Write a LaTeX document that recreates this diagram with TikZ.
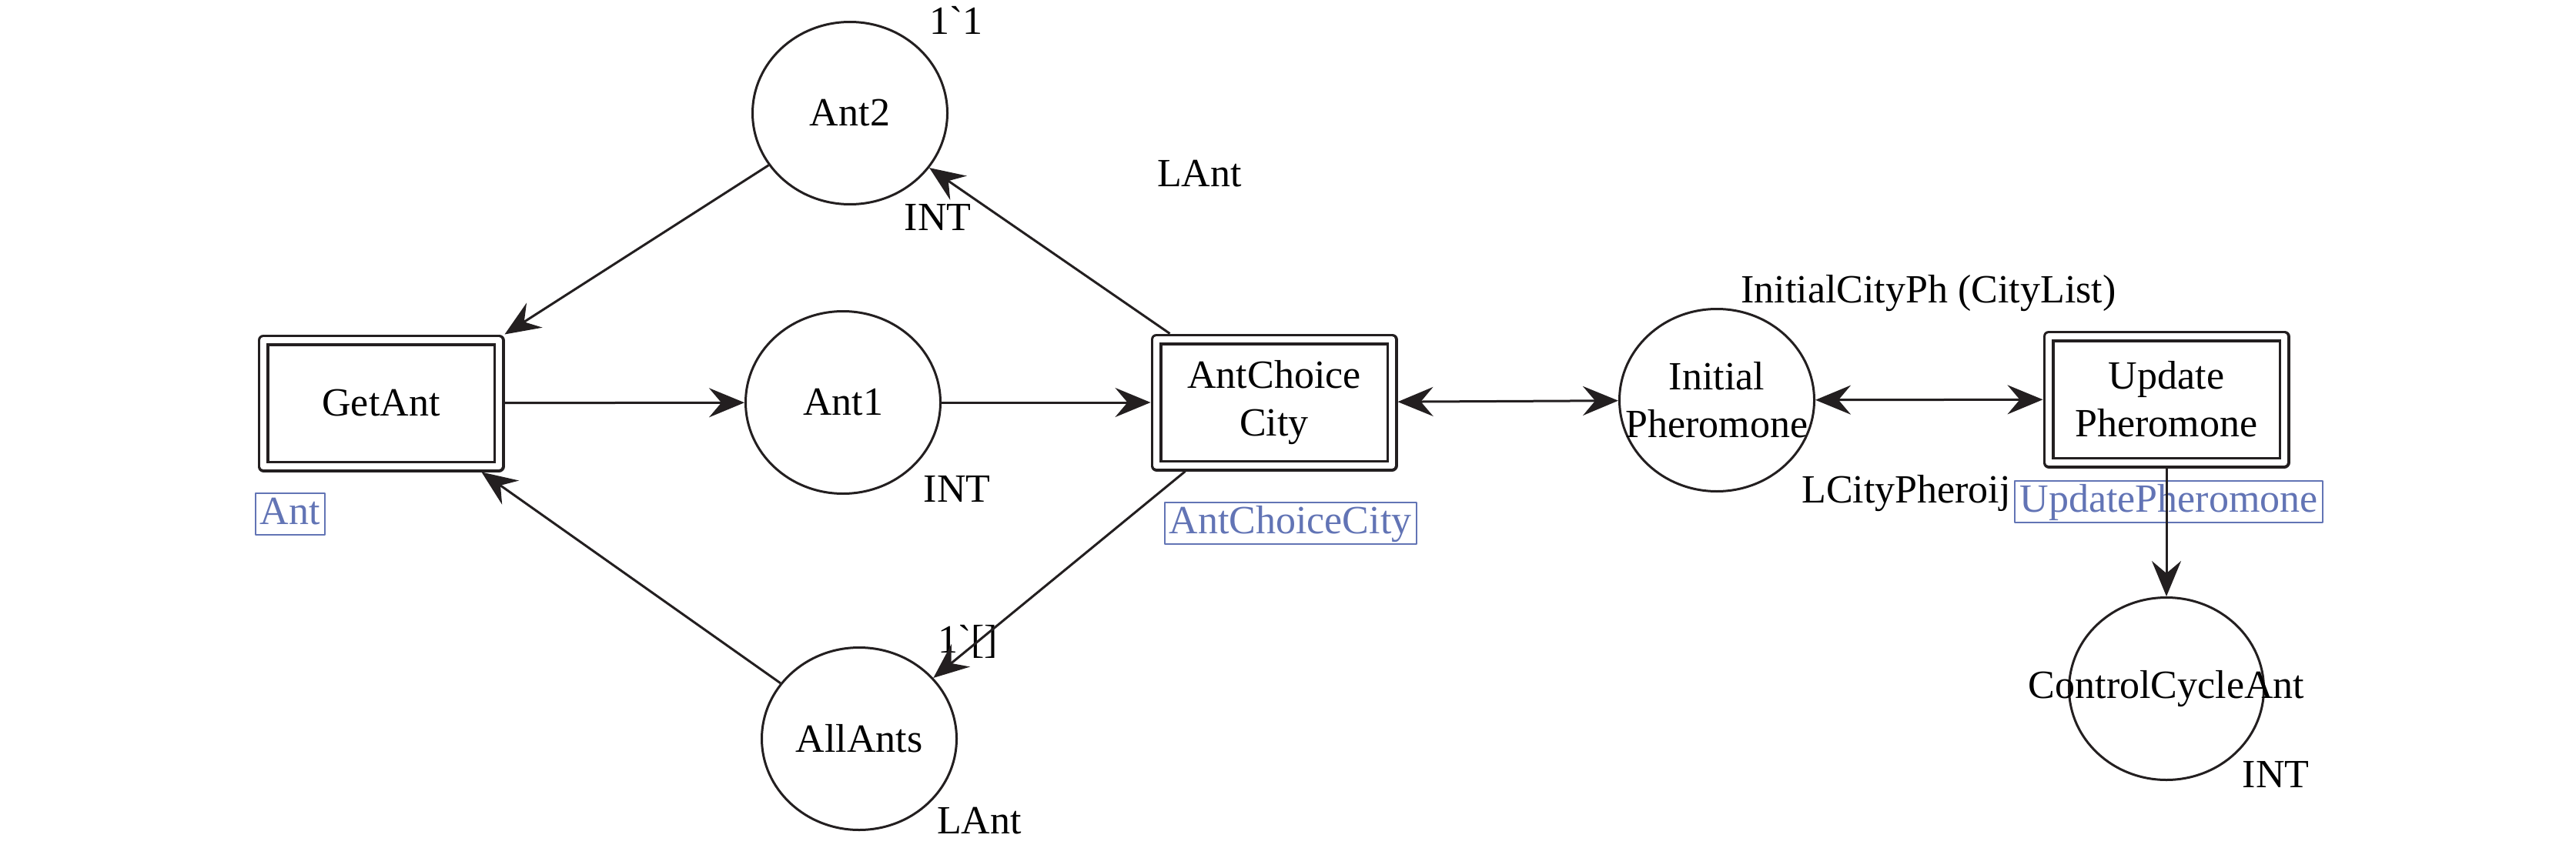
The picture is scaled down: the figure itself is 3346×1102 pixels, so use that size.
\documentclass[tikz,border=0pt]{standalone}
\usepackage{fontspec}
\setmainfont{Liberation Serif}
\usetikzlibrary{arrows.meta,shapes.geometric}
\definecolor{netline}{RGB}{35,31,32}
\definecolor{labelblue}{RGB}{98,116,181}

\begin{document}
\begin{tikzpicture}[x=0.1mm, y=-0.1mm, line join=round,
		>={Stealth[length=4.6mm, width=3.8mm, inset=1.6mm]},
		font=\fontsize{14.8pt}{17.6pt}\selectfont,
		place/.style={ellipse, draw=netline, line width=0.3mm, minimum width=25.3mm, minimum height=23.7mm, inner sep=0pt},
		trans/.style={rectangle, draw=netline, line width=0.35mm, double, double distance=0.8mm, minimum width=30.6mm, minimum height=16.4mm, align=center, outer sep=0.75mm},
		subpage/.style={rectangle, draw=labelblue, text=labelblue, line width=0.2mm, inner xsep=0.6mm, inner ysep=0.3mm, text height=3.7mm, text depth=1.1mm},
		inscr/.style={inner sep=0pt, anchor=base},
		netarc/.style={->, draw=netline, line width=0.3mm}]
		
		\useasboundingbox (0,0) rectangle (3346,1102);
		
		% transitions
		\node[trans] (getant) at (495,524) {GetAnt};
		\node[trans] (choice) at (1655,523) {AntChoice\\City};
		\node[trans] (update) at (2814,519) {Update\\Pheromone};
		
		% places
		\node[place] (ant2) at (1104,147) {Ant2};
		\node[place] (ant1) at (1095,523) {Ant1};
		\node[place] (allants) at (1116,960) {AllAnts};
		\node[place, label={[align=center]center:{Initial\\Pheromone}}] (initph) at (2230,520) {};
		\node[place, label={center:ControlCycleAnt}] (cycle) at (2814,895) {};
		
		% colour sets and initial markings
		\node[inscr] (ant2-init) at (1242,45) {1\textasciigrave 1};
		\node[inscr] (ant2-type) at (1218,300) {INT};
		\node[inscr] (ant1-type) at (1243,652) {INT};
		\node[inscr] (allants-init) at (1257,848) {1\textasciigrave[]};
		\node[inscr] (allants-type) at (1272,1083) {LAnt};
		\node[inscr] (lant) at (1558,242) {LAnt};
		\node[inscr] (initph-init) at (2505,393) {InitialCityPh (CityList)};
		\node[inscr] (initph-type) at (2476,653) {LCityPheroij};
		\node[inscr] (cycle-type) at (2956,1023) {INT};
		
		% substitution tags
		\node[subpage] (getant-sub) at (377,668) {Ant};
		\node[subpage] (choice-sub) at (1676,680) {AntChoiceCity};
		\node[subpage] (update-sub) at (2817,652) {UpdatePheromone};
		
		% arcs
		\draw[netarc] (ant2) -- (getant.north east);
		\draw[netarc] (getant) -- (ant1);
		\draw[netarc] (ant1) -- (choice);
		\draw[netarc] ([xshift=2.5mm]choice.north west) -- (ant2);
		\draw[netarc] ([xshift=4.5mm]choice.south west) -- (allants);
		\draw[netarc] (allants) -- ([xshift=-3mm]getant.south east);
		\draw[netarc, <->] (choice) -- (initph);
		\draw[netarc, <->] (initph) -- (update);
		\draw[netarc] (update) -- (cycle);
		
	\end{tikzpicture}
\end{document}
